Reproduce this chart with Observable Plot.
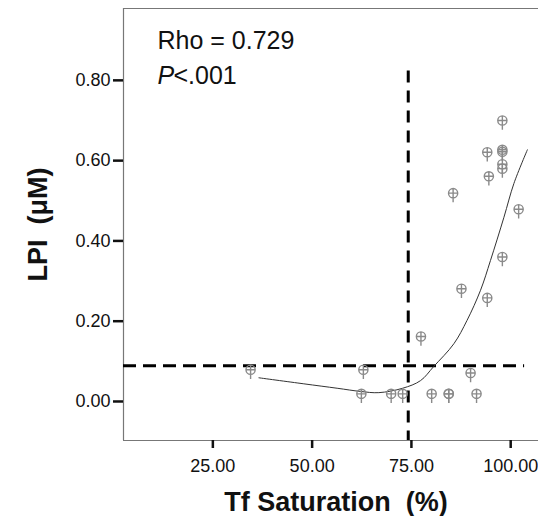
<!DOCTYPE html>
<html>
<head>
<meta charset="utf-8">
<script src="https://cdn.jsdelivr.net/npm/d3@7"></script>
<script src="https://cdn.jsdelivr.net/npm/@observablehq/plot@0.6"></script>
<style>
  html, body { margin: 0; padding: 0; background: white; }
</style>
</head>
<body>
<div id="chart"></div>
<script>
// Scatter points: Tf saturation (%) vs LPI (µM)
const tfSat = [97.9, 94.1, 97.9, 97.9, 97.9, 97.9, 94.5, 85.5, 102.0, 97.9, 87.6, 94.1, 77.4,
               34.5, 62.9, 89.9, 62.4, 69.9, 72.8, 80.1, 84.4, 84.4, 91.4];
const lpi   = [0.700, 0.621, 0.627, 0.622, 0.591, 0.580, 0.561, 0.519, 0.479, 0.360, 0.281, 0.258, 0.162,
               0.079, 0.079, 0.071, 0.019, 0.019, 0.019, 0.019, 0.019, 0.019, 0.019];

// Loess fit curve
const fitX = [36.6, 47.9, 56.3, 62.2, 66.8, 72.8, 77.3, 80.6, 85.7, 89.0, 92.4, 94.9, 98.3, 100.8, 104.2];
const fitY = [0.059, 0.044, 0.033, 0.025, 0.022, 0.033, 0.052, 0.087, 0.144, 0.202, 0.277, 0.351, 0.459, 0.543, 0.627];

// Reference (cut-off) lines
const cutX = 74.2;
const cutY = 0.089;

const xTicks = [25, 50, 75, 100];
const yTicks = [0, 0.2, 0.4, 0.6, 0.8];

const xDomain = [2.5, 107];
const yDomain = [-0.0972, 0.979];

const points = tfSat.map((x, i) => ({x, y: lpi[i]}));
const fit = fitX.map((x, i) => ({x, y: fitY[i]}));

const markerSymbol = {
  draw(ctx, size) {
    const r = Math.sqrt(size / Math.PI);
    ctx.moveTo(r, 0);
    ctx.arc(0, 0, r, 0, 2 * Math.PI);
    ctx.moveTo(-r, 0);
    ctx.lineTo(r, 0);
    ctx.moveTo(0, -r);
    ctx.lineTo(0, r * 2);
  }
};

const font = "'Liberation Sans', Arial, sans-serif";

const chart = Plot.plot({
  width: 538,
  height: 516,
  marginLeft: 123,
  marginRight: 0,
  marginTop: 8,
  marginBottom: 76,
  style: {fontFamily: font, background: "white", color: "#111"},
  x: {domain: xDomain},
  y: {domain: yDomain},
  marks: [
    // frame (left, top, bottom)
    Plot.ruleX([xDomain[0]], {stroke: "#777", strokeWidth: 1.2}),
    Plot.ruleY([yDomain[0], yDomain[1]], {stroke: "#777", strokeWidth: 1.2}),
    // axes
    Plot.axisY(yTicks, {tickSize: 10, tickPadding: 3, tickFormat: d3.format(".2f"),
      fontSize: 18, strokeWidth: 2.5, stroke: "#111", label: null}),
    Plot.axisX(xTicks, {tickSize: 8, tickPadding: 11, tickFormat: d3.format(".2f"),
      fontSize: 18, strokeWidth: 2.5, stroke: "#111", label: null}),
    // dashed cut-off lines
    Plot.ruleX([cutX], {y1: 0.823, y2: yDomain[0], stroke: "#000", strokeWidth: 3, strokeDasharray: "12,8"}),
    Plot.ruleY([cutY], {x1: xDomain[0], x2: 103.5, stroke: "#000", strokeWidth: 3, strokeDasharray: "13,7"}),
    // fit line
    Plot.line(fit, {x: "x", y: "y", curve: "catmull-rom", stroke: "#333", strokeWidth: 1}),
    // points
    Plot.dot(points, {x: "x", y: "y", r: 4.6, symbol: markerSymbol, stroke: "#8a8a8a", strokeWidth: 1.4, fill: "none"}),
    // annotation
    Plot.text(["Rho = 0.729"], {text: d => d, frameAnchor: "top-left", dx: 34, dy: 40,
      textAnchor: "start", lineAnchor: "bottom", fontSize: 25, fill: "#111"}),
    Plot.text(["P"], {text: d => d, frameAnchor: "top-left", dx: 34, dy: 75,
      textAnchor: "start", lineAnchor: "bottom", fontSize: 25, fontStyle: "italic", fill: "#111"}),
    Plot.text(["<.001"], {text: d => d, frameAnchor: "top-left", dx: 50, dy: 75,
      textAnchor: "start", lineAnchor: "bottom", fontSize: 25, fill: "#111"}),
    // axis titles
    Plot.text(["Tf Saturation\u00a0 (%)"], {text: d => d, frameAnchor: "bottom", dx: 5, dy: 70,
      textAnchor: "middle", lineAnchor: "bottom", fontSize: 27, fontWeight: "bold", fill: "#111"}),
    Plot.text(["LPI\u00a0 (\u03bcM)"], {text: d => d, frameAnchor: "left", dx: -85,
      rotate: -90, textAnchor: "middle", lineAnchor: "middle", fontSize: 27, fontWeight: "bold", fill: "#111"})
  ]
});

document.getElementById("chart").appendChild(chart);
</script>
</body>
</html>
